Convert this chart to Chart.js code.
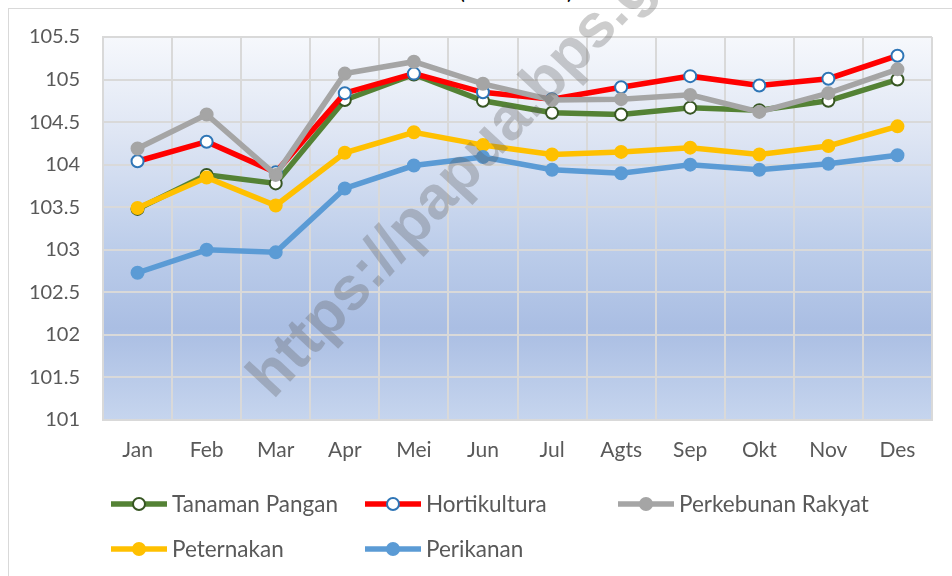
<!DOCTYPE html>
<html>
<head>
<meta charset="utf-8">
<script src="https://cdn.jsdelivr.net/npm/chart.js@4"></script>
<style>
  html, body { margin: 0; padding: 0; background: #fff; }
  #wrap { position: relative; width: 952px; height: 576px; overflow: hidden; font-family: Lato, "Open Sans", sans-serif; }
  #frame { position: absolute; left: 8px; top: 8px; width: 960px; height: 600px; border: 1.5px solid #d9d9d9; box-sizing: border-box; }
  #chart { position: absolute; left: 0; top: 0; }
  #title { position: absolute; left: 0; width: 1032px; top: -20px; text-align: center; font-size: 22px; color: #000; line-height: 22px; }
  #legend { position: absolute; left: 0; top: 0; width: 952px; height: 576px; pointer-events: none; }
  .item { position: absolute; display: flex; align-items: center; font-size: 22.5px; color: #595959; white-space: nowrap; }
  .item svg { margin-right: 4px; }
  #mark { position: absolute; left: 232px; top: 362px; transform-origin: 0 0; transform: rotate(-47deg);
          font: bold 61px "Liberation Sans", Arial, sans-serif; color: rgba(90, 90, 90, 0.3); white-space: nowrap; pointer-events: none; }
</style>
</head>
<body>
<div id="wrap">
  <div id="frame"></div>
  <div id="title">(2018=100)</div>
  <canvas id="chart" width="952" height="576"></canvas>
  <div id="legend"></div>
  <div id="mark">https://papua.bps.go.id</div>
</div>
<script>
const months = ["Jan", "Feb", "Mar", "Apr", "Mei", "Jun", "Jul", "Agts", "Sep", "Okt", "Nov", "Des"];

const tanamanPangan = [103.48, 103.88, 103.78, 104.76, 105.06, 104.75, 104.61, 104.59, 104.67, 104.64, 104.75, 105.00];
const hortikultura = [104.04, 104.27, 103.91, 104.84, 105.07, 104.85, 104.77, 104.91, 105.04, 104.93, 105.01, 105.28];
const perkebunanRakyat = [104.19, 104.59, 103.88, 105.07, 105.21, 104.95, 104.76, 104.77, 104.82, 104.62, 104.84, 105.12];
const peternakan = [103.49, 103.85, 103.52, 104.14, 104.38, 104.23, 104.12, 104.15, 104.20, 104.12, 104.22, 104.45];
const perikanan = [102.73, 103.00, 102.97, 103.72, 103.99, 104.09, 103.94, 103.90, 104.00, 103.94, 104.01, 104.11];

const seriesNames = ["Tanaman Pangan", "Hortikultura", "Perkebunan Rakyat", "Peternakan", "Perikanan"];
const seriesData = [tanamanPangan, hortikultura, perkebunanRakyat, peternakan, perikanan];
const lineColors = ["#548235", "#ff0000", "#a5a5a5", "#ffc000", "#5b9bd5"];
const markerFill = ["#ffffff", "#ffffff", "#a5a5a5", "#ffc000", "#5b9bd5"];
const markerLine = ["#375623", "#2e75b6", "#a5a5a5", "#ffc000", "#5b9bd5"];

const yMin = 101, yMax = 105.5, yStep = 0.5;

// plot area gradient like the Excel fill
const plotBg = {
  id: "plotBg",
  beforeDraw(chart) {
    const { ctx, chartArea: a } = chart;
    const g = ctx.createLinearGradient(0, a.top, 0, a.bottom);
    g.addColorStop(0, "#f6f8fc");
    g.addColorStop(0.25, "#dfe6f4");
    g.addColorStop(0.55, "#bccdea");
    g.addColorStop(0.76, "#aabee3");
    g.addColorStop(1, "#c6d5ee");
    ctx.save();
    ctx.fillStyle = g;
    ctx.fillRect(a.left, a.top, a.right - a.left, a.bottom - a.top);
    ctx.restore();
  }
};

const datasets = seriesNames.map((name, i) => ({
  label: name,
  data: seriesData[i],
  borderColor: lineColors[i],
  backgroundColor: markerFill[i],
  pointBackgroundColor: markerFill[i],
  pointBorderColor: markerLine[i],
  pointBorderWidth: 2,
  pointRadius: 6,
  borderWidth: 5.5,
  tension: 0,
  order: seriesNames.length - i
}));

new Chart(document.getElementById("chart"), {
  type: "line",
  data: { labels: months, datasets: datasets },
  plugins: [plotBg],
  options: {
    responsive: false,
    animation: false,
    layout: { padding: { top: 37, right: 20, bottom: 0, left: 0 } },
    plugins: { legend: { display: false }, tooltip: { enabled: false } },
    scales: {
      x: {
        offset: true,
        grid: { offset: true, color: "#d9d9d9", lineWidth: 2, drawTicks: false },
        border: { color: "#d9d9d9", width: 2 },
        ticks: { color: "#595959", font: { family: "Lato", size: 21 }, padding: 18, maxRotation: 0 },
        afterFit(s) { s.height = 156; }
      },
      y: {
        min: yMin,
        max: yMax,
        grid: { color: "#d9d9d9", lineWidth: 2, drawTicks: false },
        border: { color: "#d9d9d9", width: 2 },
        ticks: {
          stepSize: yStep, color: "#595959", font: { family: "Lato", size: 20 }, padding: 23,
          callback: v => String(Math.round(v * 10) / 10)
        },
        afterFit(s) { s.width = 103; }
      }
    }
  }
});

// legend laid out in the Excel columns
const legendPos = [[110, 503], [364, 503], [617, 503], [110, 548], [364, 548]];
const legendBox = document.getElementById("legend");
seriesNames.forEach((name, i) => {
  const d = document.createElement("div");
  d.className = "item";
  d.style.left = legendPos[i][0] + "px";
  d.style.top = (legendPos[i][1] - 13) + "px";
  d.innerHTML =
    '<svg width="58" height="26"><line x1="1" y1="13" x2="57" y2="13" stroke="' + lineColors[i] +
    '" stroke-width="5.5"/><circle cx="29" cy="13" r="6" fill="' + markerFill[i] +
    '" stroke="' + markerLine[i] + '" stroke-width="2"/></svg><span>' + name + '</span>';
  legendBox.appendChild(d);
});
</script>
</body>
</html>
